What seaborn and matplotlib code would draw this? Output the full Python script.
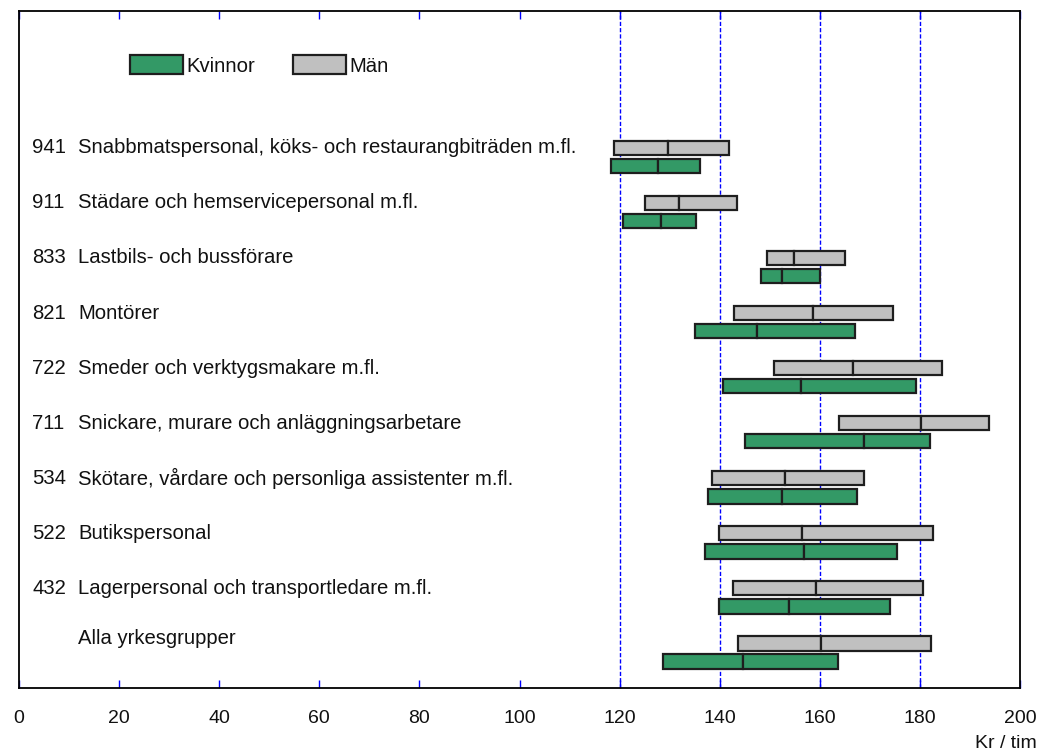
import matplotlib
matplotlib.use("Agg")
import matplotlib.pyplot as plt
from matplotlib.patches import Patch
import seaborn as sns
import numpy as np

# ---- data ----
codes = ["941", "911", "833", "821", "722", "711", "534", "522", "432", ""]
groups = [
    "Snabbmatspersonal, köks- och restaurangbiträden m.fl.",
    "Städare och hemservicepersonal m.fl.",
    "Lastbils- och bussförare",
    "Montörer",
    "Smeder och verktygsmakare m.fl.",
    "Snickare, murare och anläggningsarbetare",
    "Skötare, vårdare och personliga assistenter m.fl.",
    "Butikspersonal",
    "Lagerpersonal och transportledare m.fl.",
    "Alla yrkesgrupper",
]
# Kvinnor: low, median, high
women_low = [118.2, 120.6, 148.2, 135.0, 140.6, 145.1, 137.7, 137.1, 139.9, 128.7]
women_med = [127.6, 128.3, 152.4, 147.5, 156.2, 168.8, 152.4, 156.9, 153.8, 144.7]
women_high = [136.0, 135.3, 160.0, 167.0, 179.2, 182.0, 167.4, 175.4, 174.0, 163.6]
# Män
men_low = [118.9, 125.1, 149.5, 142.9, 150.9, 163.9, 138.4, 139.8, 142.6, 143.7]
men_med = [129.7, 131.8, 154.8, 158.6, 166.7, 180.2, 153.1, 156.5, 159.3, 160.3]
men_high = [141.9, 143.4, 165.0, 174.7, 184.5, 193.9, 168.8, 182.7, 180.6, 182.3]

xticks = [0, 20, 40, 60, 80, 100, 120, 140, 160, 180, 200]
gridlines = [120, 140, 160, 180]
series_labels = ["Kvinnor", "Män"]
xlabel = "Kr / tim"

# ---- style ----
sns.set_style("white")
plt.rcParams["font.family"] = ["Liberation Sans", "DejaVu Sans"]
FS = 14
FSL = 14.6
GREEN = "#339966"
GRAY = "#C0C0C0"
EDGE = "#1e1e1e"
TXT = "#111111"

fig = plt.figure(figsize=(10.5, 7.56), dpi=100)
ax = fig.add_axes([19 / 1050, 1 - 688 / 756, (1020 - 19) / 1050, (688 - 11) / 756])

y = np.arange(len(groups))
off = 0.165
h = 0.26

def draw(low, med, high, ypos, color):
    low = np.array(low); med = np.array(med); high = np.array(high)
    ax.barh(ypos, med - low, left=low, height=h, color=color, edgecolor=EDGE, linewidth=1.6, zorder=3)
    ax.barh(ypos, high - med, left=med, height=h, color=color, edgecolor=EDGE, linewidth=1.6, zorder=3)

draw(men_low, men_med, men_high, y - off, GRAY)
draw(women_low, women_med, women_high, y + off, GREEN)

for g in gridlines:
    ax.axvline(g, color="blue", linestyle=(0, (3, 1.5)), linewidth=1.0, zorder=1)

ax.set_xlim(0, 200)
ax.set_ylim(9.645, -2.65)
ax.set_yticks([])
ax.set_xticks(xticks)
ax.set_xticklabels([str(t) for t in xticks], fontsize=FS, color=TXT)
ax.tick_params(axis="x", direction="in", color="blue", length=6, width=1,
               top=True, bottom=True, pad=16)
for s in ax.spines.values():
    s.set_color("black")
    s.set_linewidth(1.3)
    s.set_visible(True)

# group labels
for i, (c, g) in enumerate(zip(codes, groups)):
    yl = i - off - (0.09 if c == "" else 0.0)
    if c:
        ax.text(2.6, yl, c, fontsize=FSL, va="center", ha="left", color=TXT)
    ax.text(11.8, yl, g, fontsize=FSL, va="center", ha="left", color=TXT)

fig.text(1037 / 1050, 1 - 744 / 756, xlabel, fontsize=FS, ha="right", va="center", color=TXT)

handles = [Patch(facecolor=GREEN, edgecolor=EDGE, linewidth=1.6),
           Patch(facecolor=GRAY, edgecolor=EDGE, linewidth=1.6)]
fig.legend(handles, series_labels, loc="upper left",
           bbox_to_anchor=(130 / 1050, 1 - 55 / 756), ncol=2, frameon=False,
           fontsize=FSL, handlelength=2.6, handleheight=1.1, handletextpad=0.2,
           columnspacing=1.85, borderpad=0, borderaxespad=0, labelcolor=TXT)

fig.savefig("out.png", dpi=100)
